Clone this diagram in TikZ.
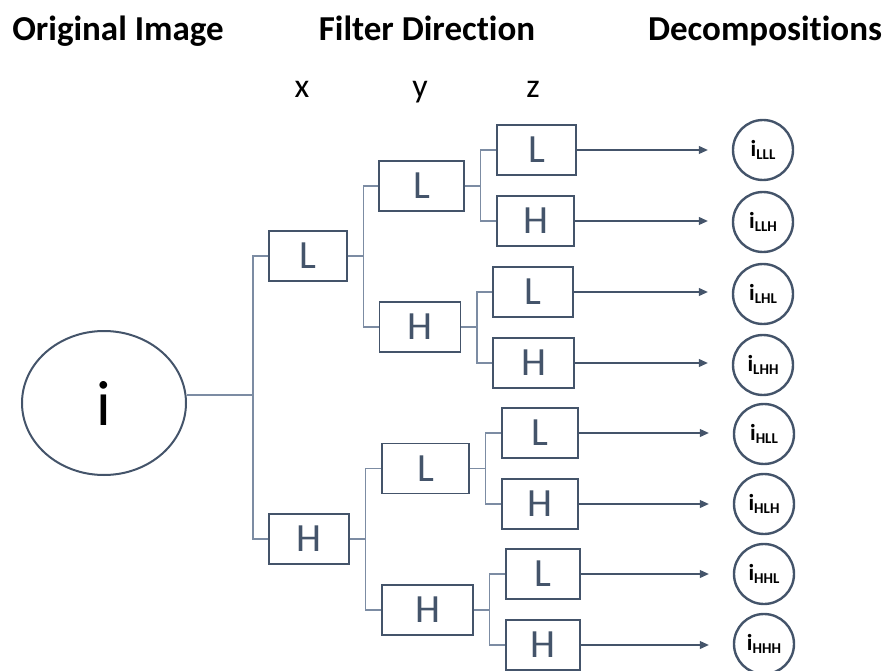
\documentclass[tikz,border=0pt]{standalone}
\usepackage{fontspec}
\setmainfont{Carlito}[Ligatures=NoCommon]
\usetikzlibrary{arrows.meta,positioning,shapes.geometric}
\definecolor{slate}{HTML}{44546A}
\definecolor{wiregray}{HTML}{7C8CA3}
\newcommand{\decomp}[1]{\textbf{i}\raisebox{-3pt}{\fontsize{15}{15}\selectfont\bfseries #1}}

\begin{document}
\begin{tikzpicture}[x=1pt,y=-1pt,
    filt/.style={draw=slate,line width=1.1pt,minimum height=50pt,inner sep=0pt,
      text=slate,font=\fontsize{40}{40}\selectfont},
    dec/.style={circle,draw=slate,line width=2.4pt,minimum size=60pt,inner sep=0pt,
      font=\fontsize{23}{23}\selectfont},
    link/.style={draw=wiregray,line width=1.2pt},
    arr/.style={draw=slate,line width=1.1pt,-{Triangle[length=9pt,width=8pt]},shorten >=24pt},
    head/.style={anchor=base,font=\fontsize{35}{35}\selectfont\bfseries},
    axis/.style={anchor=base,font=\fontsize{34}{34}\selectfont}]
  \useasboundingbox (0,0) rectangle (884,671);

  % titles
  \node[head] (tOrig) at (118,41) {Original Image};
  \node[head] (tFilt) at (427,41) {Filter Direction};
  \node[head] (tDec)  at (765,41) {Decompositions};
  \node[axis] (ax) at (302,98) {x};
  \node[axis] (ay) at (420,98) {y};
  \node[axis] (az) at (533,98) {z};

  % original image
  \node[ellipse,draw=slate,line width=2pt,minimum width=164pt,minimum height=144pt,
    font=\fontsize{64}{64}\selectfont] (root) at (104,403) {i};

  % x direction
  \node[filt,minimum width=78pt] (xL) at (308,256) {L};
  \node[filt,minimum width=80pt] (xH) at (309,539) {H};

  % y direction
  \node[filt,minimum width=85pt] (yLL) at (421.5,186) {L};
  \node[filt,minimum width=81pt] (yLH) at (420,327) {H};
  \node[filt,minimum width=87pt] (yHL) at (425.5,468.5) {L};
  \node[filt,minimum width=91pt] (yHH) at (427.5,610) {H};

  % z direction
  \node[filt,minimum width=79pt] (zLLL) at (536.5,150) {L};
  \node[filt,minimum width=77pt] (zLLH) at (535.5,221) {H};
  \node[filt,minimum width=80pt] (zLHL) at (533,292) {L};
  \node[filt,minimum width=81pt] (zLHH) at (533.5,363) {H};
  \node[filt,minimum width=76pt] (zHLL) at (540,433) {L};
  \node[filt,minimum width=76pt] (zHLH) at (540,504) {H};
  \node[filt,minimum width=74pt] (zHHL) at (543,574) {L};
  \node[filt,minimum width=74pt] (zHHH) at (543,645) {H};

  % decompositions
  \node[dec] (dLLL) at (763,150) {\decomp{LLL}};
  \node[dec] (dLLH) at (763,222) {\decomp{LLH}};
  \node[dec] (dLHL) at (763,294) {\decomp{LHL}};
  \node[dec] (dLHH) at (763,365) {\decomp{LHH}};
  \node[dec] (dHLL) at (764,434) {\decomp{HLL}};
  \node[dec] (dHLH) at (764,504) {\decomp{HLH}};
  \node[dec] (dHHL) at (764,574) {\decomp{HHL}};
  \node[dec] (dHHH) at (764,644) {\decomp{HHH}};

  % tree
  \coordinate (trunk) at (253,395);
  \draw[link] (trunk -| root.east) -- (trunk);
  \draw[link] (xL.west) -| (trunk) |- (xH.west);

  \draw[link] (xL.east) -- ++(16,0) coordinate (bL) |- (yLL.west);
  \draw[link] (bL) |- (yLH.west);
  \draw[link] (xH.east) -- ++(16,0) coordinate (bH) |- (yHL.west);
  \draw[link] (bH) |- (yHH.west);

  \draw[link] (yLL.east) -- ++(16,0) coordinate (bLL) |- (zLLL.west);
  \draw[link] (bLL) |- (zLLH.west);
  \draw[link] (yLH.east) -- ++(16,0) coordinate (bLH) |- (zLHL.west);
  \draw[link] (bLH) |- (zLHH.west);
  \draw[link] (yHL.east) -- ++(16,0) coordinate (bHL) |- (zHLL.west);
  \draw[link] (bHL) |- (zHLH.west);
  \draw[link] (yHH.east) -- ++(16,0) coordinate (bHH) |- (zHHL.west);
  \draw[link] (bHH) |- (zHHH.west);

  % outputs
  \foreach \k in {LLL,LLH,LHL,LHH,HLL,HLH,HHL,HHH}
    \draw[arr] (z\k.east) -- (z\k.east -| d\k.west);
\end{tikzpicture}
\end{document}
